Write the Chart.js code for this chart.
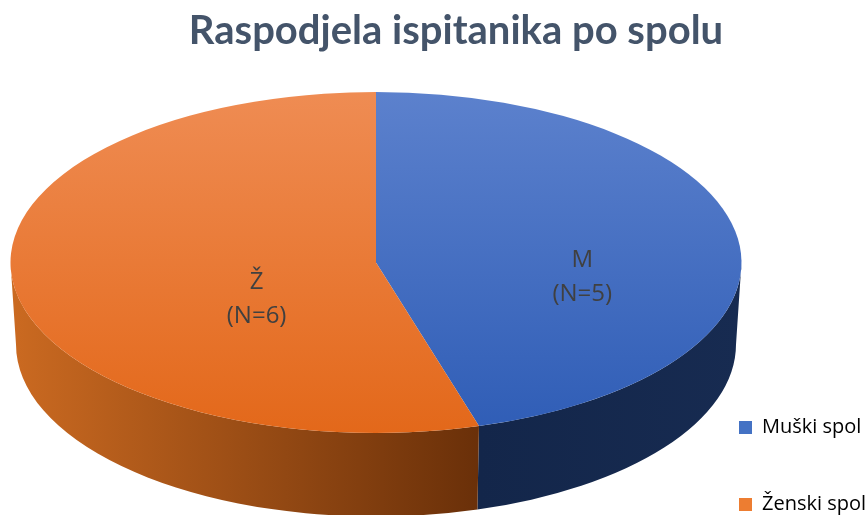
<!DOCTYPE html>
<html>
<head>
<meta charset="utf-8">
<script src="https://cdn.jsdelivr.net/npm/chart.js@4.4.1/dist/chart.umd.min.js"></script>
<style>
  html, body { margin: 0; padding: 0; background: #fff; }
  #wrap { width: 868px; height: 515px; }
</style>
</head>
<body>
<div id="wrap"><canvas id="c" width="868" height="515"></canvas></div>
<script>
const categories = ['Muški spol', 'Ženski spol'];
const shortLabels = ['M', 'Ž'];
const counts = [5, 6];

const legendColors = ['#4472c4', '#ed7d31'];
const topColors = [['#5c81cd', '#2f5db6'], ['#ef8c53', '#e3681a']];
// colour at the start angle / end angle of each visible side wall
const wallColors = [['#172b51', '#13264a'], ['#6a3009', '#cb6a21']];

// parts of a slice that face the viewer (canvas angles 0..PI)
function sideRanges(s, e) {
    const out = [];
    for (let k = -1; k <= 1; k++) {
        const lo = Math.max(s, 2 * Math.PI * k);
        const hi = Math.min(e, Math.PI + 2 * Math.PI * k);
        if (hi > lo) out.push([lo, hi]);
    }
    return out;
}

// fakes Excel's 3D pie: draws side walls, squashes the arcs into an ellipse
const pie3d = {
    id: 'pie3d',
    beforeDatasetsDraw(chart, args, o) {
        const ctx = chart.ctx;
        const arcs = chart.getDatasetMeta(0).data;
        arcs.forEach((arc, i) => {
            sideRanges(arc.startAngle, arc.endAngle).forEach(([a1, a2]) => {
                const g = ctx.createLinearGradient(o.cx + o.rx * Math.cos(a1), 0, o.cx + o.rx * Math.cos(a2), 0);
                g.addColorStop(0, wallColors[i][0]);
                g.addColorStop(1, wallColors[i][1]);
                ctx.beginPath();
                ctx.ellipse(o.cx, o.cy, o.rx, o.ry, 0, a1, a2);
                ctx.ellipse(o.cx, o.cy + o.depth, o.rx2, o.ry2, 0, a2, a1, true);
                ctx.closePath();
                ctx.fillStyle = g;
                ctx.fill();
            });
        });
        const a = arcs[0];
        ctx.save();
        ctx.translate(o.cx, o.cy);
        ctx.scale(o.rx / a.outerRadius, o.ry / a.outerRadius);
        ctx.translate(-a.x, -a.y);
    },
    afterDatasetsDraw(chart, args, o) {
        const ctx = chart.ctx;
        ctx.restore();
        const arcs = chart.getDatasetMeta(0).data;
        ctx.save();
        ctx.fillStyle = '#404040';
        ctx.font = '24px "Open Sans"';
        ctx.textAlign = 'center';
        ctx.textBaseline = 'middle';
        arcs.forEach((arc, i) => {
            const mid = (arc.startAngle + arc.endAngle) / 2;
            const r = o.labelRadius[i];
            const x = o.cx + o.rx * r * Math.cos(mid);
            const y = o.cy + o.ry * r * Math.sin(mid) + o.labelDy;
            ctx.fillText(shortLabels[i], x, y - 17);
            ctx.fillText('(N=' + counts[i] + ')', x, y + 17);
        });
        ctx.restore();
    },
    afterLayout(chart, args, o) {
        const lg = chart.legend;
        lg.left = o.legendLeft;
        lg.top = o.legendTop;
        lg.right = 868;
        lg.bottom = 700;
    }
};

const ctx = document.getElementById('c').getContext('2d');
new Chart(ctx, {
    type: 'pie',
    data: {
        labels: categories,
        datasets: [{
            data: counts,
            borderWidth: 0,
            backgroundColor: (c) => {
                const area = c.chart.chartArea;
                if (!area) return legendColors[c.dataIndex];
                const cy = (area.top + area.bottom) / 2;
                const R = Math.min(area.width, area.height) / 2;
                const g = c.chart.ctx.createLinearGradient(0, cy - R, 0, cy + R);
                g.addColorStop(0, topColors[c.dataIndex][0]);
                g.addColorStop(1, topColors[c.dataIndex][1]);
                return g;
            },
        }],
    },
    options: {
        responsive: false,
        animation: false,
        events: [],
        layout: { padding: { left: 44 } },
        plugins: {
            title: {
                display: true,
                text: 'Raspodjela ispitanika po spolu',
                color: '#44546a',
                font: { family: 'Lato', size: 40, weight: 'bold' },
                padding: { top: 7, bottom: 10 },
            },
            legend: {
                position: 'right',
                align: 'start',
                labels: {
                    boxWidth: 13,
                    boxHeight: 13,
                    padding: 57,
                    color: '#475467',
                    font: { family: 'Open Sans', size: 20 },
                    generateLabels: () => categories.map((t, i) => ({
                        text: t,
                        fillStyle: legendColors[i],
                        strokeStyle: legendColors[i],
                        lineWidth: 0,
                        hidden: false,
                        index: i,
                    })),
                },
            },
            tooltip: { enabled: false },
            pie3d: {
                cx: 376, cy: 262.5, rx: 365.5, ry: 170.5,
                depth: 82, rx2: 360, ry2: 172,
                labelRadius: [0.57, 0.33], labelDy: 28.5,
                legendLeft: 682, legendTop: 360.5,
            },
        },
    },
    plugins: [pie3d],
});
</script>
</body>
</html>
